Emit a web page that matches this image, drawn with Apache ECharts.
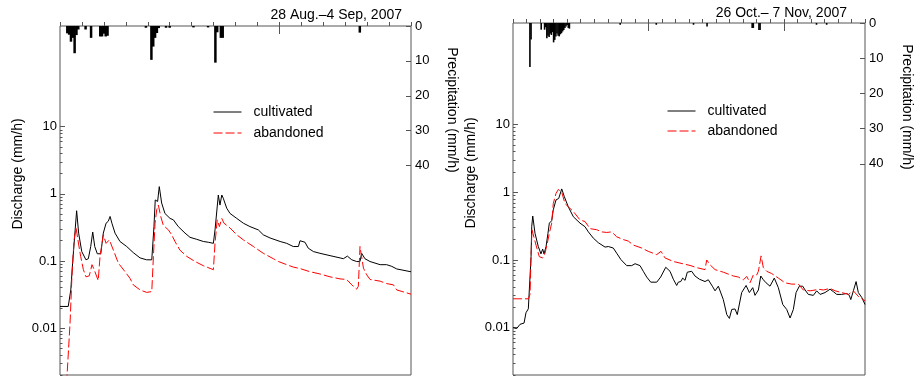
<!DOCTYPE html>
<html>
<head>
<meta charset="utf-8">
<script src="https://cdn.jsdelivr.net/npm/echarts@6/dist/echarts.min.js"></script>
<style>
  html, body { margin: 0; padding: 0; background: #fff; }
  #chart { width: 920px; height: 378px; }
</style>
</head>
<body>
<div id="chart"></div>
<script>
// hours since start of each event, discharge in mm/h, rain in mm/h
const augCultivated = [
  [0, 0.021], [4.5, 0.021], [5.9, 0.037], [6.9, 0.093], [8.0, 0.23], [9.1, 0.56],
  [10.2, 0.26], [11.9, 0.138], [14.2, 0.104], [15.5, 0.108], [16.8, 0.164], [17.9, 0.27],
  [19.0, 0.164], [20.4, 0.128], [22.3, 0.128], [23.7, 0.26], [25.2, 0.365], [26.4, 0.39],
  [27.4, 0.46], [28.4, 0.365], [30.1, 0.26], [32.8, 0.195], [36.5, 0.164], [40.1, 0.133],
  [43.8, 0.111], [47.4, 0.104], [50.2, 0.104], [51.4, 0.325], [52.1, 0.81], [52.9, 0.86],
  [53.4, 0.77], [54.3, 1.28], [55.6, 0.73], [57.4, 0.51], [60.2, 0.43], [62.0, 0.41],
  [64.7, 0.325], [68.4, 0.26], [71.1, 0.225], [74.8, 0.21], [78.4, 0.195], [81.1, 0.19],
  [83.9, 0.183], [84.8, 0.29], [86.6, 0.96], [87.5, 0.68], [88.5, 0.96], [89.3, 0.86],
  [91.2, 0.61], [93.0, 0.51], [96.7, 0.43], [100.3, 0.365], [103.9, 0.325], [108.5, 0.29],
  [111.2, 0.245], [114.9, 0.22], [120.4, 0.195], [124.0, 0.183], [127.6, 0.164], [130.4, 0.164],
  [131.3, 0.2], [134.0, 0.19], [135.8, 0.155], [138.6, 0.138], [142.2, 0.13], [147.7, 0.12],
  [153.2, 0.111], [155.0, 0.108], [157.2, 0.118], [159.6, 0.104], [162.3, 0.098], [164.1, 0.098],
  [165.0, 0.13], [166.8, 0.108], [169.6, 0.098], [175.1, 0.088], [178.7, 0.088], [181.5, 0.083],
  [184.2, 0.076], [192, 0.069]
];
const augAbandoned = [
  [3.6, 0.0015], [5.5, 0.0119], [6.6, 0.066], [7.7, 0.206], [8.8, 0.31], [9.8, 0.206],
  [11.3, 0.117], [12.8, 0.074], [14.2, 0.058], [16.0, 0.06], [17.5, 0.088], [18.7, 0.074],
  [20.9, 0.051], [21.9, 0.117], [23.7, 0.245], [25.2, 0.183], [27.0, 0.206], [29.2, 0.145],
  [31.9, 0.093], [35.6, 0.069], [38.3, 0.055], [40.1, 0.044], [43.8, 0.037], [47.4, 0.034],
  [50.2, 0.035], [51.1, 0.117], [52.0, 0.365], [52.9, 0.58], [53.8, 0.68], [55.1, 0.46],
  [56.5, 0.34], [59.3, 0.29], [61.1, 0.245], [62.9, 0.195], [65.6, 0.145], [69.3, 0.117],
  [73.9, 0.098], [78.4, 0.085], [83.9, 0.074], [84.8, 0.183], [86.0, 0.41], [87.2, 0.325],
  [88.5, 0.43], [89.7, 0.365], [93.0, 0.31], [96.7, 0.245], [100.3, 0.206], [105.8, 0.164],
  [111.2, 0.13], [116.7, 0.108], [119.5, 0.098], [124.0, 0.088], [127.6, 0.081], [131.3, 0.077],
  [136.8, 0.069], [142.2, 0.064], [147.7, 0.058], [153.2, 0.054], [156.8, 0.053], [159.6, 0.044],
  [162.3, 0.038], [163.2, 0.042], [164.1, 0.164], [166.0, 0.078], [167.8, 0.062], [169.6, 0.053],
  [175.1, 0.05], [178.7, 0.046], [182.4, 0.044], [184.2, 0.037], [192, 0.032]
];
const augRain = [
  [4, 2.1], [5, 2.5], [6, 4.5], [7, 3.4], [8, 7.8], [9, 2.6], [10, 1.0], [14, 1.0],
  [17, 3.4], [22, 3.0], [23, 3.0], [24, 2.2], [25, 3.0], [26, 2.8], [47, 0.5],
  [50, 9.7], [51, 5.9], [52, 3.4], [53, 2.0], [54, 0.6], [58, 0.5], [60, 0.5],
  [73, 0.4], [81, 0.4], [85, 10.5], [86, 1.8], [88, 3.4], [89, 3.4], [164, 1.9]
];

const octCultivated = [
  [0, 0.01], [3.3, 0.0097], [6.2, 0.0112], [9.8, 0.0117], [11.5, 0.0166], [13.6, 0.019],
  [15.1, 0.02], [16.0, 0.112], [16.6, 0.31], [17.5, 0.446], [19.5, 0.248], [22.4, 0.158],
  [24.8, 0.123], [26.3, 0.145], [27.5, 0.123], [29.3, 0.158], [31.0, 0.248], [32.2, 0.35],
  [34.3, 0.38], [35.7, 0.55], [38.1, 0.77], [40.5, 0.81], [43.2, 1.12], [45.5, 0.86],
  [49.0, 0.61], [53.5, 0.435], [59.4, 0.35], [63.8, 0.31], [66.8, 0.26], [71.2, 0.21],
  [75.6, 0.18], [81.6, 0.155], [84.5, 0.158], [88.9, 0.15], [91.9, 0.126], [95.7, 0.101],
  [100.8, 0.0825], [105.2, 0.0825], [108.2, 0.088], [112.6, 0.0825], [115.5, 0.068], [118.5, 0.056],
  [122.1, 0.047], [127.4, 0.047], [130.9, 0.056], [135.4, 0.078], [139.2, 0.068], [142.1, 0.052],
  [145.1, 0.042], [146.5, 0.047], [148.7, 0.048], [150.4, 0.054], [152.5, 0.05], [154.5, 0.066],
  [158.4, 0.068], [161.3, 0.058], [165.2, 0.052], [170.2, 0.048], [173.1, 0.051], [176.7, 0.041],
  [179.1, 0.035], [182.0, 0.041], [186.4, 0.026], [189.5, 0.0156], [191.8, 0.0137], [193.9, 0.0186],
  [196.8, 0.0189], [198.8, 0.0156], [202.7, 0.033], [206.6, 0.042], [209.5, 0.033], [212.5, 0.039],
  [214.5, 0.03], [217.5, 0.036], [219.6, 0.058], [221.9, 0.051], [224.3, 0.046], [227.8, 0.041],
  [231.6, 0.054], [235.2, 0.039], [239.1, 0.022], [242.6, 0.0186], [245.6, 0.0139], [248.5, 0.0186],
  [250.9, 0.033], [253.8, 0.041], [256.8, 0.041], [258.9, 0.036], [261.8, 0.031], [266.2, 0.03],
  [269.2, 0.035], [272.2, 0.031], [276.6, 0.033], [281.0, 0.037], [284.0, 0.034], [287.0, 0.031],
  [291.4, 0.031], [295.8, 0.032], [298.1, 0.03], [299.4, 0.026], [301.7, 0.035], [304.1, 0.048],
  [306.1, 0.033], [309.1, 0.028], [312, 0.022]
];
const octAbandoned = [
  [0, 0.0267], [13.6, 0.0267], [15.1, 0.031], [16.0, 0.112], [16.8, 0.28], [18.0, 0.28],
  [20.4, 0.166], [23.3, 0.112], [26.3, 0.107], [28.4, 0.126], [30.4, 0.177], [32.2, 0.248],
  [34.3, 0.35], [35.7, 0.68], [38.1, 0.96], [40.2, 1.1], [43.2, 1.0], [46.1, 0.68],
  [49.0, 0.61], [53.5, 0.52], [59.4, 0.39], [63.8, 0.37], [68.3, 0.29], [74.2, 0.28],
  [78.6, 0.26], [83.1, 0.255], [87.5, 0.26], [91.9, 0.22], [97.8, 0.2], [102.2, 0.19],
  [106.6, 0.166], [114.1, 0.15], [119.9, 0.134], [127.4, 0.12], [131.2, 0.134], [134.8, 0.107],
  [142.1, 0.095], [148.0, 0.09], [156.9, 0.083], [162.9, 0.077], [170.2, 0.072], [171.7, 0.1],
  [174.6, 0.085], [179.1, 0.072], [186.4, 0.066], [195.3, 0.058], [199.7, 0.056], [204.2, 0.051],
  [207.2, 0.057], [210.1, 0.046], [213.0, 0.06], [216.0, 0.06], [217.5, 0.068], [219.9, 0.115],
  [221.9, 0.077], [224.9, 0.068], [229.3, 0.063], [235.2, 0.054], [241.1, 0.046], [247.1, 0.044],
  [252.9, 0.044], [257.4, 0.036], [263.3, 0.035], [267.7, 0.036], [270.6, 0.037], [275.1, 0.036],
  [281.0, 0.038], [285.5, 0.035], [291.4, 0.033], [297.3, 0.031], [301.7, 0.035], [306.1, 0.029],
  [312, 0.025]
];
const octRain = [
  [15, 12.5], [16, 4.7], [25, 1.9], [28, 1.9], [29, 1.2], [30, 4.3], [31, 3.6], [32, 4.0],
  [33, 3.0], [34, 3.4], [35, 2.6], [36, 5.5], [37, 4.8], [38, 3.8], [39, 3.0], [40, 3.6],
  [41, 3.8], [42, 3.2], [43, 2.9], [44, 2.4], [45, 2.0], [46, 1.4], [47, 1.0], [48, 0.6],
  [49, 1.4], [50, 1.6], [95, 0.5], [127, 0.5], [160, 0.5], [172, 1.0], [212, 1.4], [213, 1.4],
  [218, 2.0], [219, 2.0], [269, 0.5], [278, 0.5]
];

const dischargeTicks = [0.01, 0.1, 1, 10];
const dischargeMinor = [0.002, 0.003, 0.004, 0.005, 0.006, 0.007, 0.008, 0.009,
  0.02, 0.03, 0.04, 0.05, 0.06, 0.07, 0.08, 0.09,
  0.2, 0.3, 0.4, 0.5, 0.6, 0.7, 0.8, 0.9,
  2, 3, 4, 5, 6, 7, 8, 9];
const rainTicks = [0, 10, 20, 30, 40];

const font = 'Liberation Sans, Arial, sans-serif';
const axisGray = '#555';

const chart = echarts.init(document.getElementById('chart'));

const panels = [
  { grid: { left: 60, top: 26, width: 351, height: 349 }, hours: 192, majorAt: [120], barW: 2.5,
    title: '28 Aug.\u20134 Sep, 2007', titleRight: 513, titleTop: 3,
    cult: augCultivated, aban: augAbandoned, rain: augRain,
    legend: { left: 208, top: 100, itemGap: 7 }, dischargeName: [18, 174], precipName: [452, 110] },
  { grid: { left: 513, top: 23, width: 352, height: 352 }, hours: 312, majorAt: [120, 240], barW: 1.6,
    title: '26 Oct.\u2013 7 Nov, 2007', titleRight: 68, titleTop: 1,
    cult: octCultivated, aban: octAbandoned, rain: octRain,
    legend: { left: 662, top: 99, itemGap: 6 }, dischargeName: [471, 173], precipName: [907, 107] }
];

const option = {
  animation: false,
  textStyle: { fontFamily: font },
  title: [], grid: [], xAxis: [], yAxis: [], series: [], legend: [], graphic: []
};

panels.forEach((p, i) => {
  option.title.push({
    text: p.title, right: p.titleRight, top: p.titleTop,
    textStyle: { fontSize: 14, fontWeight: 'normal', color: '#000', fontFamily: font }
  });
  option.grid.push(Object.assign({ show: true, borderColor: axisGray, borderWidth: 1 }, p.grid));

  // time axis: 12 h ticks, longer tick every 5 days
  option.xAxis.push({
    type: 'value', gridIndex: i, min: 0, max: p.hours, interval: 12,
    axisLine: { show: false }, splitLine: { show: false }, axisLabel: { show: false },
    axisTick: { inside: true, length: 4, lineStyle: { color: axisGray } }
  });
  option.xAxis.push({
    type: 'value', gridIndex: i, min: 0, max: p.hours,
    axisLine: { show: false }, splitLine: { show: false }, axisLabel: { show: false },
    axisTick: { inside: true, length: 8, customValues: p.majorAt, lineStyle: { color: axisGray } }
  });

  option.yAxis.push({
    type: 'log', gridIndex: i, min: 0.002, max: 316.2278, position: 'left',
    axisLine: { show: false }, splitLine: { show: false },
    axisTick: { inside: true, length: 5, customValues: dischargeTicks, lineStyle: { color: axisGray } },
    axisLabel: { customValues: dischargeTicks, fontSize: 13, color: '#000', margin: 3,
      formatter: v => String(v) }
  });
  option.yAxis.push({
    type: 'log', gridIndex: i, min: 0.002, max: 316.2278, position: 'left',
    axisLine: { show: false }, splitLine: { show: false }, axisLabel: { show: false },
    axisTick: { inside: true, length: 2.5, customValues: dischargeMinor, lineStyle: { color: axisGray } }
  });
  option.yAxis.push({
    type: 'value', gridIndex: i, min: 0, max: 100, inverse: true, position: 'right',
    axisLine: { show: false }, splitLine: { show: false },
    axisTick: { inside: true, length: 5, customValues: rainTicks, lineStyle: { color: axisGray } },
    axisLabel: { customValues: rainTicks, fontSize: 13, color: '#000', margin: 4 }
  });

  option.series.push({
    type: 'bar', name: 'rain' + i, xAxisIndex: 2 * i, yAxisIndex: 3 * i + 2,
    data: p.rain, barWidth: p.barW, itemStyle: { color: '#000' }
  });
  option.series.push({
    type: 'line', name: 'cultivated', xAxisIndex: 2 * i, yAxisIndex: 3 * i,
    data: p.cult, symbol: 'none', clip: true,
    lineStyle: { color: '#000', width: 1 }, itemStyle: { color: '#000' }
  });
  option.series.push({
    type: 'line', name: 'abandoned', xAxisIndex: 2 * i, yAxisIndex: 3 * i,
    data: p.aban, symbol: 'none', clip: true,
    lineStyle: { color: '#ff0000', width: 1, type: [9, 3] }, itemStyle: { color: '#ff0000' }
  });

  option.legend.push({
    data: ['cultivated', 'abandoned'], orient: 'vertical',
    left: p.legend.left, top: p.legend.top, itemGap: p.legend.itemGap,
    itemWidth: 28, itemHeight: 14, selectedMode: false,
    itemStyle: { opacity: 0 }, lineStyle: { width: 1 },
    textStyle: { fontSize: 14, color: '#000', fontFamily: font, padding: [0, 0, 0, 7] }
  });

  option.graphic.push({
    type: 'text', x: p.dischargeName[0], y: p.dischargeName[1], rotation: Math.PI / 2,
    style: { text: 'Discharge (mm/h)', fontSize: 14, fill: '#000', fontFamily: font,
      align: 'center', verticalAlign: 'middle' }
  });
  option.graphic.push({
    type: 'text', x: p.precipName[0], y: p.precipName[1], rotation: -Math.PI / 2,
    style: { text: 'Precipitation (mm/h)', fontSize: 14, fill: '#000', fontFamily: font,
      align: 'center', verticalAlign: 'middle' }
  });
});

chart.setOption(option);
</script>
</body>
</html>
